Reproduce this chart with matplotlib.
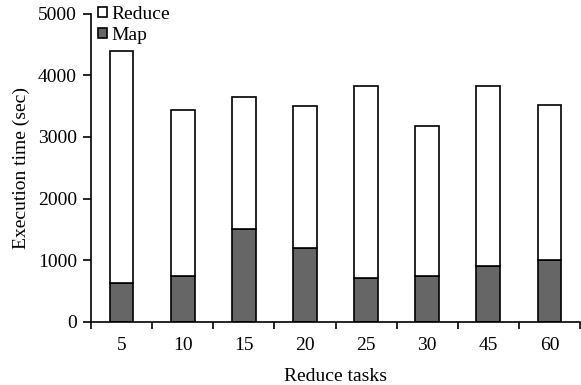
import numpy as np
import matplotlib
matplotlib.use('Agg')
import matplotlib.pyplot as plt

# data
tasks = ['5', '10', '15', '20', '25', '30', '45', '60']
total_time = [4400, 3440, 3650, 3500, 3820, 3180, 3830, 3510]
map_time = [630, 750, 1500, 1200, 710, 750, 900, 1010]
reduce_time = [t - m for t, m in zip(total_time, map_time)]

plt.rcParams['font.family'] = ['Liberation Serif', 'DejaVu Serif']
plt.rcParams['font.size'] = 14

fig = plt.figure(figsize=(5.81, 3.85), dpi=100)
ax = fig.add_axes([91 / 581, 63 / 385, 489 / 581, 308.5 / 385])

x = np.arange(len(tasks))
w = 0.39
ax.bar(x, map_time, w, color='#666666', edgecolor='black', linewidth=1.2, label='Map')
ax.bar(x, reduce_time, w, bottom=map_time, color='white', edgecolor='black',
       linewidth=1.2, label='Reduce')

ax.set_xlim(-0.5, len(tasks) - 0.5)
ax.set_ylim(0, 5000)
ax.set_yticks(range(0, 5001, 1000))

# labels at the centres, tick marks at the boundaries
ax.set_xticks(x)
ax.set_xticklabels(tasks)
ax.set_xticks(np.arange(-0.5, len(tasks)), minor=True)
ax.tick_params(axis='x', which='major', length=0, pad=11)
ax.tick_params(axis='x', which='minor', length=5, width=1.2, direction='out')
ax.tick_params(axis='y', length=6, width=1.2, direction='out', pad=4)

for s in ['top', 'right']:
    ax.spines[s].set_visible(False)
for s in ['left', 'bottom']:
    ax.spines[s].set_linewidth(1.2)

ax.set_xlabel('Reduce tasks', labelpad=10)
ax.set_ylabel('Execution time (sec)', labelpad=6)

h, l = ax.get_legend_handles_labels()
fig.legend(h[::-1], l[::-1], loc='upper left', bbox_to_anchor=(98 / 581, 1 - 6 / 385),
           frameon=False, handlelength=0.45, handleheight=0.45, handletextpad=0.25,
           labelspacing=0.2, borderpad=0, borderaxespad=0)

fig.savefig('out.png', dpi=100)
